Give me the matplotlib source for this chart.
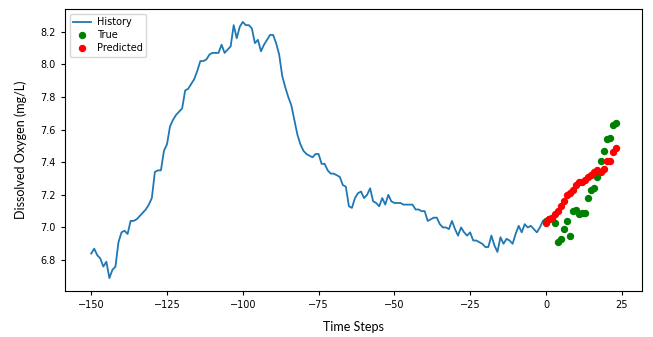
# Dissolved oxygen: history vs true / predicted future values
import numpy as np
import matplotlib.pyplot as plt

# history values, time steps -150 .. -1
history = [
    6.84, 6.87, 6.83, 6.81, 6.76, 6.79, 6.69, 6.74, 6.76, 6.91,
    6.97, 6.98, 6.96, 7.04, 7.04, 7.05, 7.07, 7.09, 7.11, 7.14,
    7.18, 7.34, 7.35, 7.35, 7.47, 7.51, 7.62, 7.66, 7.69, 7.71,
    7.73, 7.84, 7.85, 7.88, 7.91, 7.96, 8.02, 8.02, 8.03, 8.06,
    8.07, 8.07, 8.07, 8.12, 8.07, 8.09, 8.11, 8.24, 8.16, 8.23,
    8.26, 8.24, 8.24, 8.22, 8.13, 8.15, 8.08, 8.12, 8.15, 8.18,
    8.18, 8.13, 8.06, 7.93, 7.86, 7.80, 7.75, 7.66, 7.57, 7.51,
    7.47, 7.45, 7.44, 7.43, 7.45, 7.45, 7.39, 7.39, 7.35, 7.33,
    7.33, 7.32, 7.31, 7.26, 7.25, 7.13, 7.12, 7.18, 7.21, 7.22,
    7.18, 7.20, 7.24, 7.16, 7.15, 7.13, 7.18, 7.14, 7.20, 7.16,
    7.15, 7.15, 7.15, 7.14, 7.14, 7.14, 7.14, 7.11, 7.11, 7.10,
    7.10, 7.04, 7.05, 7.06, 7.06, 7.02, 7.00, 7.00, 6.99, 7.04,
    6.99, 6.95, 7.00, 6.97, 6.95, 6.97, 6.92, 6.92, 6.91, 6.90,
    6.88, 6.88, 6.95, 6.89, 6.85, 6.94, 6.90, 6.93, 6.92, 6.90,
    6.96, 7.01, 6.97, 7.02, 7.00, 7.01, 6.99, 6.97, 7.00, 7.04,
]

# future values, time steps 0 .. 23
true_vals = [
    7.04, 7.05, 7.06, 7.03, 6.91, 6.93, 6.99, 7.04, 6.95, 7.10,
    7.11, 7.08, 7.09, 7.09, 7.18, 7.23, 7.24, 7.31, 7.41, 7.47,
    7.54, 7.55, 7.63, 7.64,
]
predicted = [
    7.03, 7.05, 7.06, 7.08, 7.10, 7.13, 7.16, 7.20, 7.21, 7.23,
    7.26, 7.28, 7.28, 7.29, 7.31, 7.32, 7.34, 7.35, 7.34, 7.36,
    7.41, 7.41, 7.46, 7.49,
]

t_hist = np.arange(-len(history), 0)
t_future = np.arange(len(true_vals))

fig = plt.figure(figsize=(6.53, 3.37), dpi=100)
ax = fig.add_axes([0.0995, 0.137, 0.8835, 0.836])

ax.plot(t_hist, history, color='C0', lw=1.3, label='History')
ax.plot(t_future, true_vals, 'o', color='green', ms=4.3, label='True')
ax.plot(t_future, predicted, 'o', color='red', ms=4.3, label='Predicted')

ax.tick_params(labelsize=7, length=3)
ax.set_xlabel('Time Steps', fontsize=9, family='Lato', labelpad=8)
ax.set_ylabel('Dissolved Oxygen (mg/L)', fontsize=9, family='Lato', labelpad=10)
ax.legend(loc='upper left', fontsize=7, labelspacing=0.3,
          handlelength=1.8, borderpad=0.35, handletextpad=0.6)

plt.savefig('out.png', dpi=100)
